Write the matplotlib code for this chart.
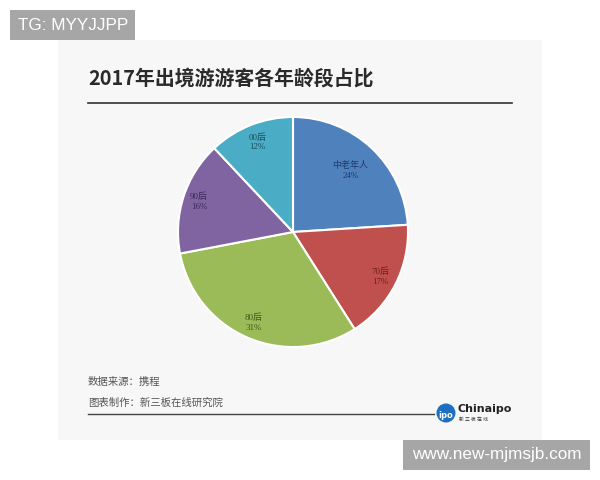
import matplotlib
matplotlib.use("Agg")
import matplotlib.pyplot as plt
from matplotlib.patches import Rectangle, Circle
import numpy as np

plt.rcParams['font.family'] = ['Noto Sans CJK SC', 'DejaVu Sans']

title = "2017年出境游游客各年龄段占比"
categories = ["中老年人", "70后", "80后", "90后", "00后"]
values = [24, 17, 31, 16, 12]
wedge_colors = ["#4f81bd", "#c0504d", "#9bbb59", "#8064a2", "#4bacc6"]
text_colors = ["#1f3a68", "#6b1f1d", "#3d5a1a", "#3b2a55", "#1b4f5e"]
label_dist = [0.73, 0.85, 0.86, 0.86, 0.84]
source_lines = ["数据来源：携程", "图表制作：新三板在线研究院"]

W, H = 600, 480
fig = plt.figure(figsize=(6, 4.8), dpi=100)
fig.patch.set_facecolor("white")

bg = fig.add_axes([0, 0, 1, 1])
bg.set_xlim(0, W)
bg.set_ylim(H, 0)
bg.axis("off")

# panel
bg.add_patch(Rectangle((58, 40), 484, 400, facecolor="#f7f7f7", edgecolor="none"))

# title
bg.text(88, 78, title, fontsize=14.3, fontweight="bold", color="#2a2a2a",
        ha="left", va="center")
bg.plot([88, 512], [103, 103], color="#333333", lw=1.2)

# footer
bg.text(88, 382, source_lines[0], fontsize=7.5, color="#555555", ha="left", va="center")
bg.text(88, 403, source_lines[1], fontsize=7.5, color="#555555", ha="left", va="center")
bg.plot([88, 434], [414, 414], color="#444444", lw=1.0)

# logo
bg.add_patch(Circle((446, 413), 9.5, facecolor="#1f6fc0", edgecolor="none"))
bg.text(446, 415, "ipo", fontsize=6, color="white", ha="center", va="center",
        fontweight="bold", family="DejaVu Sans")
bg.text(458, 409, "Chinaipo", fontsize=8, color="#222222", ha="left", va="center",
        fontweight="bold", family="DejaVu Sans")
bg.text(459, 419, "新 三 板 在 线", fontsize=3.5, color="#333333", ha="left", va="center")

# watermark boxes
bg.add_patch(Rectangle((10, 10), 125, 30, facecolor="#a6a6a6", edgecolor="none"))
bg.text(18, 25, "TG: MYYJJPP", fontsize=12.3, color="white", ha="left", va="center",
        family="Liberation Sans")
bg.add_patch(Rectangle((403, 440), 187, 30, facecolor="#a6a6a6", edgecolor="none"))
bg.text(496.5, 455, "www.new-mjmsjb.com", fontsize=12.3, color="white", ha="center",
        va="center", family="Liberation Sans")

# pie
cx, cy, r = 293, 232, 115
ax = fig.add_axes([(cx - r) / W, (H - cy - r) / H, 2 * r / W, 2 * r / H])
wedges, _ = ax.pie(values, colors=wedge_colors, startangle=90, counterclock=False,
                   wedgeprops=dict(edgecolor="white", linewidth=1.5))
ax.set_xlim(-1, 1)
ax.set_ylim(-1, 1)
ax.set_aspect("equal")
total = sum(values)
for w, cat, v, tc, d in zip(wedges, categories, values, text_colors, label_dist):
    ang = np.deg2rad((w.theta1 + w.theta2) / 2)
    x, y = d * np.cos(ang), d * np.sin(ang)
    ax.text(x, y, f"{cat}\n{round(100 * v / total)}%", ha="center", va="center",
            fontsize=6.5, color=tc, linespacing=1.3,
            family=["Liberation Serif", "Noto Sans CJK SC"])

fig.savefig("out.png", dpi=100, facecolor="white")
